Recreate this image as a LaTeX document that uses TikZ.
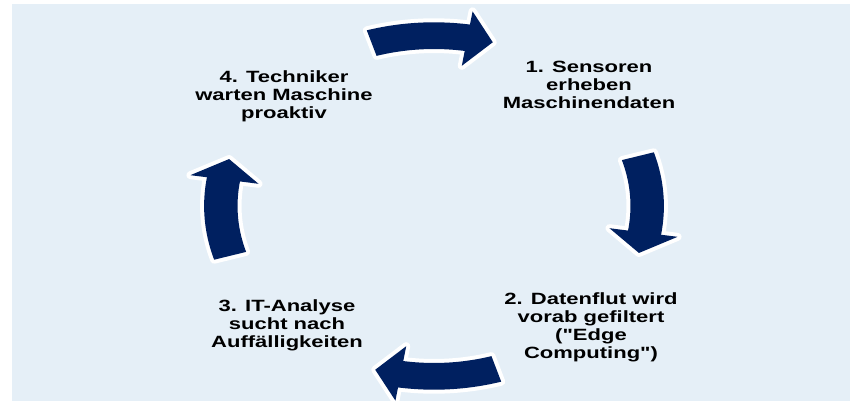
\documentclass[tikz,border=0pt]{standalone}
\usepackage{fontspec}
\newfontfamily\lblfont{Liberation Sans}[FakeStretch=1.35]
\definecolor{bgblue}{HTML}{E5EFF7}
\definecolor{navy}{HTML}{002060}
\begin{document}
\begin{tikzpicture}[x=1pt,y=-1pt,
  lbl/.style={align=center, inner sep=0pt, font=\lblfont\bfseries\fontsize{16.3}{18}\selectfont, text=black},
  cyclearrow/.style={fill=navy, preaction={draw=white, line width=8pt, line join=round}}]
\useasboundingbox (0,0) rectangle (850,401);
\fill[bgblue] (12,4) rectangle (850,401);
\begin{scope}[shift={(434pt,-206pt)}, x=209pt, y=167pt]
  \foreach \c in {90,0,-90,180}{
    \pgfmathsetmacro{\s}{\c+17}
    \pgfmathsetmacro{\b}{\c-9}
    \pgfmathsetmacro{\t}{\c-16}
    \path[cyclearrow] plot[domain=\s:\b, samples=30] (\x:1.10) -- (\b:1.18) -- (\t:1.02) -- (\b:0.85)
      -- plot[domain=\b:\s, samples=30] (\x:0.94) -- cycle;
  }
\end{scope}
\node[lbl] (n1) at (589,85) {1. Sensoren\\erheben\\Maschinendaten};
\node[lbl] (n2) at (591,327) {2. Datenflut wird\\vorab gefiltert\\("Edge\\Computing")};
\node[lbl] (n3) at (287,325) {3. IT-Analyse\\sucht nach\\Auffälligkeiten};
\node[lbl] (n4) at (284,96) {4. Techniker\\warten Maschine\\proaktiv};
\end{tikzpicture}
\end{document}
